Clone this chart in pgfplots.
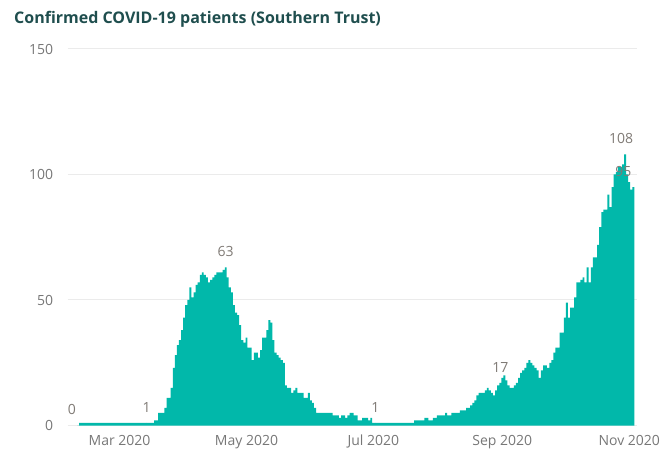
\documentclass[border=0pt]{standalone}
\usepackage{fontspec}
\setmainfont{Open Sans}
\usepackage{pgfplots}
\usepackage{pgfplotstable}
\pgfplotsset{compat=1.18}
\definecolor{barteal}{HTML}{01B8AA}
\definecolor{titlecol}{HTML}{1F4E4E}
\definecolor{tickcol}{HTML}{777777}
\definecolor{lblcol}{HTML}{7F7A75}
\definecolor{gridcol}{HTML}{EBEBEB}
% daily confirmed COVID-19 patients, one row per day from ~10 Feb 2020 (index 0) to ~3 Nov 2020 (index 267)
\pgfplotstableread[row sep=\\]{
y\\
0\\1\\1\\1\\1\\1\\1\\1\\1\\1\\
1\\1\\1\\1\\1\\1\\1\\1\\1\\1\\
1\\1\\1\\1\\1\\1\\1\\1\\1\\1\\
1\\1\\1\\1\\1\\1\\1\\2\\2\\5\\
5\\5\\7\\11\\11\\15\\23\\28\\32\\34\\
38\\43\\48\\50\\55\\51\\53\\56\\57\\60\\
61\\60\\59\\57\\58\\59\\60\\61\\61\\61\\
62\\63\\59\\55\\53\\48\\45\\44\\40\\34\\
33\\35\\31\\31\\26\\29\\29\\27\\30\\35\\
35\\38\\42\\41\\34\\29\\28\\27\\26\\25\\
16\\15\\15\\13\\14\\15\\13\\13\\13\\11\\
11\\13\\10\\9\\7\\5\\5\\5\\5\\5\\
5\\5\\5\\4\\4\\4\\3\\4\\4\\3\\
4\\5\\5\\4\\4\\2\\2\\3\\3\\3\\
2\\3\\1\\1\\1\\1\\1\\1\\1\\1\\
1\\1\\1\\1\\1\\1\\1\\1\\1\\1\\
1\\1\\2\\2\\2\\2\\2\\3\\3\\2\\
2\\3\\3\\4\\4\\4\\4\\5\\4\\4\\
5\\5\\5\\5\\6\\6\\6\\7\\7\\8\\
9\\10\\12\\13\\13\\13\\14\\15\\14\\13\\
12\\14\\16\\17\\19\\20\\18\\16\\15\\15\\
16\\17\\19\\21\\22\\23\\25\\26\\25\\24\\
23\\22\\19\\22\\24\\24\\23\\25\\26\\29\\
31\\31\\37\\37\\43\\49\\43\\47\\47\\51\\
57\\57\\58\\59\\57\\63\\57\\63\\67\\67\\
72\\79\\85\\86\\86\\92\\87\\95\\100\\101\\
103\\103\\104\\108\\100\\97\\94\\95\\
}\covid
\begin{document}
\begin{tikzpicture}[x=1pt,y=1pt]
\useasboundingbox (0,0) rectangle (671,455);
\node[anchor=base west, font=\fontsize{16}{19}\selectfont\bfseries, text=titlecol, inner sep=0pt] at (14,431) {Confirmed COVID-19 patients (Southern Trust)};
\begin{axis}[
  at={(67.6pt,29.5pt)}, anchor=south west,
  scale only axis, width=568.9pt, height=376.5pt,
  xmin=-5, xmax=268.5, ymin=0, ymax=150,
  ytick={0,50,100,150},
  xtick={20,81,142,204,265},
  xticklabels={Mar 2020,May 2020,Jul 2020,Sep 2020,Nov 2020},
  ymajorgrids, grid style={gridcol, line width=1pt},
  axis line style={draw=none},
  major tick length=0pt,
  tick label style={font=\fontsize{14}{16}\selectfont, text=tickcol},
  /pgf/number format/assume math mode=true,
  yticklabel style={xshift=-11pt},
  xticklabel style={yshift=-6pt},
  clip=false,
]
\addplot[ybar, bar width=0.9, fill=barteal, draw=none] table[x expr=\coordindex, y=y] {\covid};
\addplot[only marks, mark=*, mark size=0pt, draw=none, fill=none, nodes near coords, point meta=y,
  nodes near coords style={font=\fontsize{14}{16}\selectfont, text=lblcol, anchor=south, yshift=7pt}]
  coordinates {(33,1) (71,63) (143,1) (203,17)};
\addplot[only marks, mark=*, mark size=0pt, draw=none, fill=none, nodes near coords, point meta=y,
  nodes near coords style={font=\fontsize{14}{16}\selectfont, text=lblcol, anchor=south, yshift=7pt, xshift=-6pt}]
  coordinates {(0,0)};
\addplot[only marks, mark=*, mark size=0pt, draw=none, fill=none, nodes near coords, point meta=y,
  nodes near coords style={font=\fontsize{14}{16}\selectfont, text=lblcol, anchor=south, yshift=7pt, xshift=-4pt}]
  coordinates {(263,108)};
\addplot[only marks, mark=*, mark size=0pt, draw=none, fill=none, nodes near coords, point meta=y,
  nodes near coords style={font=\fontsize{14}{16}\selectfont, text=lblcol, anchor=south, yshift=7pt, xshift=-10pt}]
  coordinates {(267,95)};
\end{axis}
\end{tikzpicture}
\end{document}
